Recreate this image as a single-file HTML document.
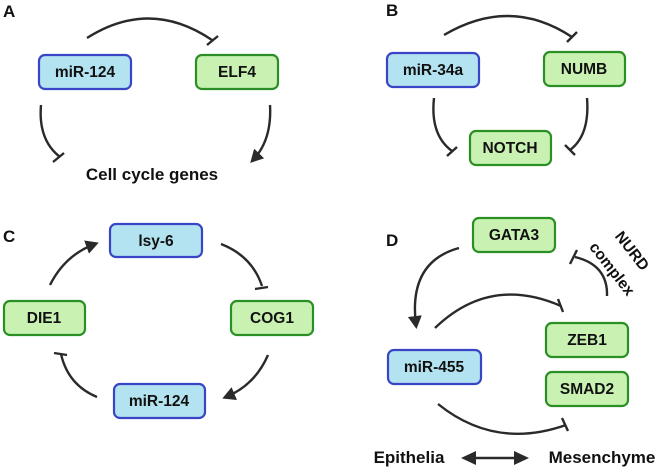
<!DOCTYPE html>
<html><head><meta charset="utf-8"><style>
body{margin:0;background:#fff;}
svg{display:block;font-family:"Liberation Sans",Arial,sans-serif;font-weight:bold;}
.b{fill:#b3e3f0;stroke:#3a44c6;stroke-width:2.2;}
.g{fill:#c9f2b2;stroke:#2a8f24;stroke-width:2.2;}
.l{fill:none;stroke:#2a2a2a;stroke-width:2.4;}
text{fill:#111;font-size:15.5px;text-anchor:middle;}
.p{font-size:17px;text-anchor:start;}
</style></head><body>
<svg width="662" height="475" viewBox="0 0 662 475">
<defs><marker id="a" markerWidth="14" markerHeight="14" refX="9" refY="7" orient="auto" markerUnits="userSpaceOnUse"><path d="M0,0 L13,7 L0,14 z" fill="#2a2a2a"/></marker></defs>
<!-- A -->
<text class="p" x="3" y="17">A</text>
<rect class="b" x="39" y="55" width="92" height="34" rx="6"/><text x="85" y="77">miR-124</text>
<rect class="g" x="196" y="55" width="82" height="34" rx="6"/><text x="237" y="77">ELF4</text>
<path class="l" d="M87,38 Q150,-2 212,40"/><path class="l" d="M207,45 L218,36"/>
<path class="l" d="M41,105 Q38,140 60,157"/><path class="l" d="M53,162 L64,153"/>
<path class="l" d="M270,105 Q272,140 253,160" marker-end="url(#a)"/>
<text x="152" y="180" style="font-size:17px">Cell cycle genes</text>
<!-- B -->
<text class="p" x="386" y="16">B</text>
<rect class="b" x="387" y="53" width="92" height="34" rx="6"/><text x="433" y="75">miR-34a</text>
<rect class="g" x="544" y="52" width="81" height="34" rx="6"/><text x="584" y="74">NUMB</text>
<rect class="g" x="470" y="131" width="81" height="34" rx="6"/><text x="510" y="153">NOTCH</text>
<path class="l" d="M444,35 Q510,-4 572,37"/><path class="l" d="M567,42 L577,32"/>
<path class="l" d="M434,98 Q430,135 452,151"/><path class="l" d="M447,156 L457,147"/>
<path class="l" d="M587,98 Q590,135 570,150"/><path class="l" d="M565,145 L575,155"/>
<!-- C -->
<text class="p" x="3" y="242">C</text>
<rect class="b" x="110" y="224" width="92" height="33" rx="6"/><text x="156" y="246">lsy-6</text>
<rect class="g" x="4" y="301" width="81" height="34" rx="6"/><text x="44" y="323">DIE1</text>
<rect class="g" x="231" y="301" width="82" height="34" rx="6"/><text x="272" y="323">COG1</text>
<rect class="b" x="114" y="384" width="91" height="34" rx="6"/><text x="159" y="406">miR-124</text>
<path class="l" d="M50,285 Q65,255 95,244" marker-end="url(#a)"/>
<path class="l" d="M221,244 Q252,256 262,286"/><path class="l" d="M255,289 L268,287"/>
<path class="l" d="M268,355 Q255,385 226,397" marker-end="url(#a)"/>
<path class="l" d="M97,397 Q68,385 61,354"/><path class="l" d="M54,353 L67,355"/>
<!-- D -->
<text class="p" x="386" y="246">D</text>
<rect class="g" x="473" y="218" width="82" height="34" rx="6"/><text x="514" y="240">GATA3</text>
<rect class="g" x="546" y="323" width="82" height="34" rx="6"/><text x="587" y="345">ZEB1</text>
<rect class="g" x="546" y="372" width="82" height="34" rx="6"/><text x="587" y="394">SMAD2</text>
<rect class="b" x="388" y="350" width="93" height="34" rx="6"/><text x="434" y="372">miR-455</text>
<path class="l" d="M459,248 Q408,262 416,325" marker-end="url(#a)"/>
<path class="l" d="M435,328 Q490,275 561,306"/><path class="l" d="M558,299 L563,312"/>
<path class="l" d="M607,296 Q608,265 575,257"/><path class="l" d="M570,264 L577,250"/>
<path class="l" d="M438,404 Q495,450 566,425"/><path class="l" d="M562,418 L568,431"/>
<text transform="translate(628,254) rotate(52)" style="font-size:15.5px">NURD</text>
<text transform="translate(608,272) rotate(52)" style="font-size:15.5px">complex</text>
<text x="409" y="463" style="font-size:17px">Epithelia</text>
<text x="602" y="463" style="font-size:17px">Mesenchyme</text>
<path d="M470,458 L520,458" class="l"/>
<path d="M461,458 L476,451 L476,465 z M529,458 L514,451 L514,465 z" fill="#2a2a2a"/>
</svg>
</body></html>
